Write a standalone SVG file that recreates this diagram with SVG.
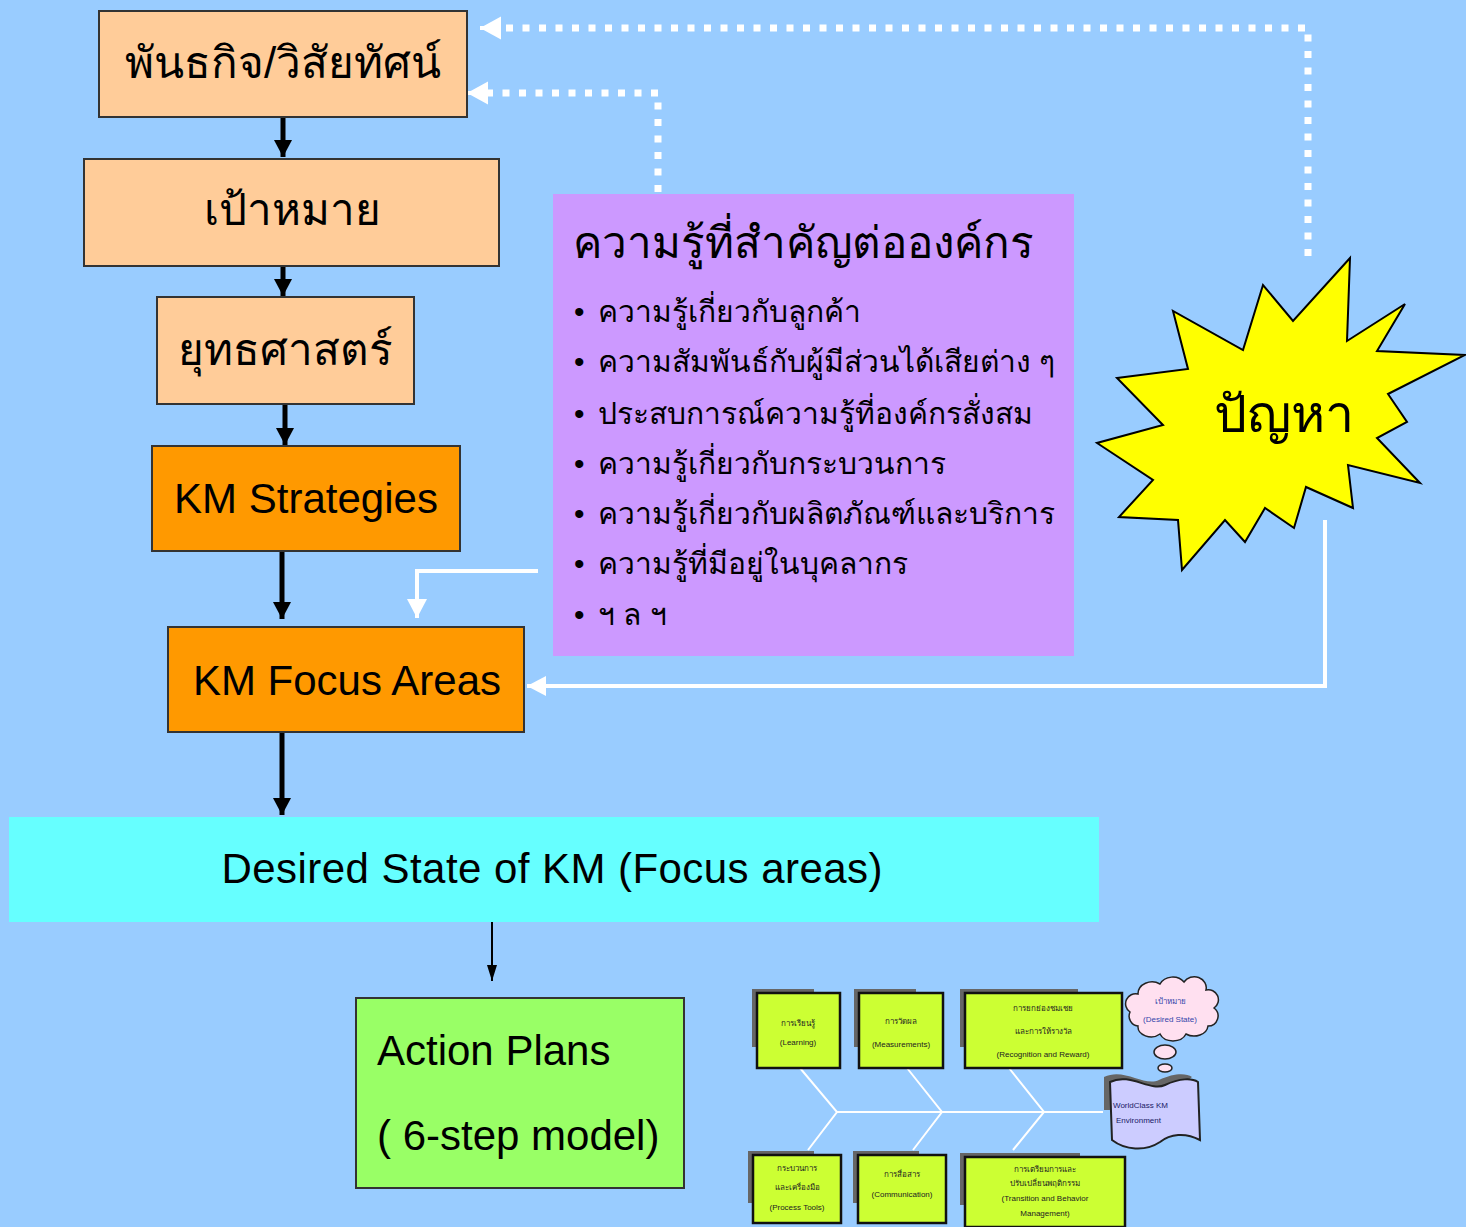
<svg xmlns="http://www.w3.org/2000/svg" width="1466" height="1227" viewBox="0 0 1466 1227">
<defs>
<style>
.th{font-family:"Liberation Sans","Noto Sans",sans-serif;fill:#000}
.en{font-family:"Liberation Sans",Arial,sans-serif;fill:#000}
.peach{fill:#ffcc99;stroke:#333;stroke-width:2}
.orange{fill:#ff9900;stroke:#333;stroke-width:2}
.fb{fill:#ccff33;stroke:#111;stroke-width:2.5}
.sh{fill:#666}
.tiny{font-family:"Liberation Sans","Noto Sans",sans-serif;font-size:8px;fill:#222;text-anchor:middle}
.blk{stroke:#000;stroke-width:5;fill:none}
.wdot{stroke:#fff;stroke-width:7;fill:none;stroke-dasharray:7 9.5}
.wsol{stroke:#fff;stroke-width:4;fill:none}
.bone{stroke:#fff;stroke-width:2;fill:none}
</style>
<marker id="ab" markerUnits="userSpaceOnUse" markerWidth="20" markerHeight="20" refX="17" refY="9" orient="auto"><path d="M0,0 L17,9 L0,18 Z" fill="#000"/></marker>
<marker id="abs" markerUnits="userSpaceOnUse" markerWidth="18" markerHeight="12" refX="16" refY="5" orient="auto"><path d="M0,0 L16,5 L0,10 Z" fill="#000"/></marker>
<marker id="aw" markerUnits="userSpaceOnUse" markerWidth="24" markerHeight="24" refX="21" refY="11.5" orient="auto"><path d="M0,0 L21,11.5 L0,23 Z" fill="#fff"/></marker>
<marker id="aw2" markerUnits="userSpaceOnUse" markerWidth="22" markerHeight="22" refX="19" refY="10" orient="auto"><path d="M0,0 L19,10 L0,20 Z" fill="#fff"/></marker>
</defs>
<rect x="0" y="0" width="1466" height="1227" fill="#99ccff"/>

<g id="connectors">
<path class="blk" d="M283,117 V157" marker-end="url(#ab)"/>
<path class="blk" d="M283,266 V296" marker-end="url(#ab)"/>
<path class="blk" d="M285,390 V445" marker-end="url(#ab)"/>
<path class="blk" d="M282,538 V619" marker-end="url(#ab)"/>
<path class="blk" d="M282,718 V815" marker-end="url(#ab)"/>
<path d="M492,915 V981" stroke="#000" stroke-width="2" fill="none" marker-end="url(#abs)"/>
<path class="wdot" d="M1308,256 V28 H500"/>
<path d="M500,28 H480" stroke="#fff" stroke-width="4" marker-end="url(#aw)"/>
<path class="wdot" d="M658,192 V93 H488"/>
<path d="M488,93 H467" stroke="#fff" stroke-width="4" marker-end="url(#aw)"/>
<path class="wsol" d="M538,571 H417 V618" marker-end="url(#aw2)"/>
<path class="wsol" d="M1325,520 V686 H527" marker-end="url(#aw2)"/>
<path class="bone" d="M837,1112 H1103"/>
<path class="bone" d="M800,1068 L837,1112 L808,1150"/>
<path class="bone" d="M907,1068 L942,1112 L913,1150"/>
<path class="bone" d="M1009,1068 L1044,1112 L1013,1150"/>
</g>

<g id="mission">
<rect class="peach" x="99" y="11" width="368" height="106"/>
<text class="th" x="283" y="78" font-size="44" text-anchor="middle">พันธกิจ/วิสัยทัศน์</text>
</g>
<g id="goal">
<rect class="peach" x="84" y="159" width="415" height="107"/>
<text class="th" x="292" y="225" font-size="44" text-anchor="middle">เป้าหมาย</text>
</g>
<g id="strategy">
<rect class="peach" x="157" y="297" width="257" height="107"/>
<text class="th" x="285" y="365" font-size="44" text-anchor="middle">ยุทธศาสตร์</text>
</g>
<g id="km-strategies">
<rect class="orange" x="152" y="446" width="308" height="105"/>
<text class="en" x="306" y="513" font-size="42" text-anchor="middle">KM Strategies</text>
</g>
<g id="km-focus">
<rect class="orange" x="168" y="627" width="356" height="105"/>
<text class="en" x="347" y="695" font-size="42" text-anchor="middle">KM Focus Areas</text>
</g>
<g id="desired-state">
<rect x="9" y="817" width="1090" height="105" fill="#66ffff"/>
<text class="en" x="552" y="883" font-size="42" text-anchor="middle" textLength="661">Desired State of KM (Focus areas)</text>
</g>
<g id="action-plans">
<rect x="356" y="998" width="328" height="190" fill="#99ff66" stroke="#333" stroke-width="2"/>
<text class="en" x="377" y="1065" font-size="42">Action Plans</text>
<text class="en" x="377" y="1150" font-size="42">( 6-step model)</text>
</g>
<g id="key-knowledge">
<rect x="553" y="194" width="521" height="462" fill="#cc99ff"/>
<text class="th" x="573" y="258" font-size="44">ความรู้ที่สำคัญต่อองค์กร</text>
<g class="th" font-size="30">
<text x="574" y="322">•</text><text x="598" y="322">ความรู้เกี่ยวกับลูกค้า</text>
<text x="574" y="372">•</text><text x="598" y="372">ความสัมพันธ์กับผู้มีส่วนได้เสียต่าง ๆ</text>
<text x="574" y="424">•</text><text x="598" y="424">ประสบการณ์ความรู้ที่องค์กรสั่งสม</text>
<text x="574" y="474">•</text><text x="598" y="474">ความรู้เกี่ยวกับกระบวนการ</text>
<text x="574" y="524">•</text><text x="598" y="524">ความรู้เกี่ยวกับผลิตภัณฑ์และบริการ</text>
<text x="574" y="574">•</text><text x="598" y="574">ความรู้ที่มีอยู่ในบุคลากร</text>
<text x="574" y="625">•</text><text x="598" y="625">ฯ ล ฯ</text>
</g>
</g>
<g id="problem">
<polygon points="1350,258 1347,341 1405,304 1377,351 1465,355 1388,394 1407,422 1377,438 1420,483 1348,465 1353,508 1306,487 1294,528 1265,508 1245,542 1225,520 1182,570 1178,520 1119,517 1153,480 1097,443 1163,425 1117,378 1188,369 1173,311 1243,350 1263,285 1293,321" fill="#ffff00" stroke="#000" stroke-width="2" stroke-linejoin="miter"/>
<text class="th" x="1284" y="432" font-size="52" text-anchor="middle">ปัญหา</text>
</g>

<g id="fishbone">
<g id="fb-learning">
<rect class="sh" x="752" y="989" width="62" height="58"/>
<rect class="fb" x="757" y="993" width="83" height="75"/>
<text class="tiny" x="798" y="1026">การเรียนรู้</text>
<text class="tiny" x="798" y="1045">(Learning)</text>
</g>
<g id="fb-measure">
<rect class="sh" x="854" y="989" width="62" height="58"/>
<rect class="fb" x="859" y="993" width="84" height="75"/>
<text class="tiny" x="901" y="1024">การวัดผล</text>
<text class="tiny" x="901" y="1047">(Measurements)</text>
</g>
<g id="fb-reward">
<rect class="sh" x="960" y="989" width="118" height="58"/>
<rect class="fb" x="965" y="993" width="157" height="75"/>
<text class="tiny" x="1043" y="1011">การยกย่องชมเชย</text>
<text class="tiny" x="1043" y="1034">และการให้รางวัล</text>
<text class="tiny" x="1043" y="1057">(Recognition and Reward)</text>
</g>
<g id="fb-process">
<rect class="sh" x="748" y="1151" width="66" height="52"/>
<rect class="fb" x="753" y="1155" width="88" height="68"/>
<text class="tiny" x="797" y="1171">กระบวนการ</text>
<text class="tiny" x="797" y="1190">และเครื่องมือ</text>
<text class="tiny" x="797" y="1210">(Process Tools)</text>
</g>
<g id="fb-comm">
<rect class="sh" x="853" y="1151" width="66" height="52"/>
<rect class="fb" x="858" y="1155" width="88" height="68"/>
<text class="tiny" x="902" y="1177">การสื่อสาร</text>
<text class="tiny" x="902" y="1197">(Communication)</text>
</g>
<g id="fb-transition">
<rect class="sh" x="960" y="1153" width="120" height="52"/>
<rect class="fb" x="965" y="1157" width="160" height="70"/>
<text class="tiny" x="1045" y="1172">การเตรียมการและ</text>
<text class="tiny" x="1045" y="1186">ปรับเปลี่ยนพฤติกรรม</text>
<text class="tiny" x="1045" y="1201">(Transition and Behavior</text>
<text class="tiny" x="1045" y="1216">Management)</text>
</g>
<g id="fb-goal">
<path d="M1130,1012 a10,10 0 0 1 8,-18 a14,12 0 0 1 22,-10 a14,12 0 0 1 24,-2 a12,11 0 0 1 22,8 a10,10 0 0 1 8,18 a10,10 0 0 1 -6,18 a14,11 0 0 1 -22,8 a14,11 0 0 1 -26,0 a13,10 0 0 1 -22,-8 a10,10 0 0 1 -8,-14 z" fill="#ffe0f0" stroke="#222" stroke-width="1.5"/>
<ellipse cx="1165" cy="1052" rx="11" ry="7" fill="#ffe0f0" stroke="#222" stroke-width="1.5"/>
<ellipse cx="1165" cy="1068" rx="7" ry="4" fill="#ffe0f0" stroke="#222" stroke-width="1.5"/>
<text class="tiny" x="1170" y="1004" fill="#3344aa" style="fill:#3344aa">เป้าหมาย</text>
<text class="tiny" x="1170" y="1022" style="fill:#3344aa">(Desired State)</text>
</g>
<g id="fb-world">
<path d="M1104,1077 C1124,1067 1144,1087 1159,1080 C1174,1073 1186,1073 1192,1077 L1150,1110 L1104,1110 Z" fill="#666"/>
<path d="M1110,1082 C1130,1072 1150,1092 1165,1085 C1180,1078 1192,1078 1198,1082 L1200,1140 C1185,1132 1170,1134 1160,1142 C1145,1152 1125,1150 1112,1140 Z" fill="#ccccff" stroke="#222" stroke-width="2"/>
<text class="tiny" x="1113" y="1108" style="text-anchor:start;fill:#1a1a66">WorldClass KM</text>
<text class="tiny" x="1116" y="1123" style="text-anchor:start;fill:#1a1a66">Environment</text>
</g>
</g>
</svg>
